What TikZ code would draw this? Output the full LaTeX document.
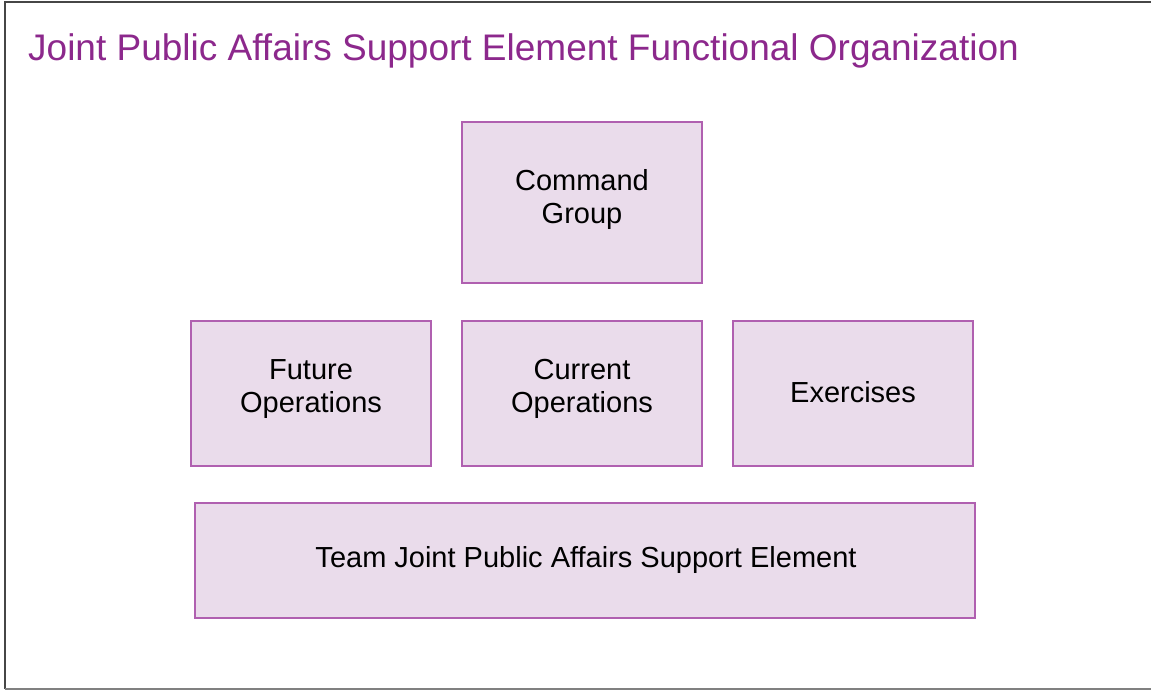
\documentclass[tikz,border=0pt]{standalone}
\usepackage{fontspec}
\setmainfont{Liberation Sans}
\definecolor{titlecol}{RGB}{140,40,140}
\definecolor{boxfill}{RGB}{234,220,235}
\definecolor{boxline}{RGB}{176,96,176}
\definecolor{frame}{RGB}{70,70,70}
\tikzset{
  unitbox/.style={draw=boxline, fill=boxfill, line width=1.3pt},
  unittext/.style={align=center, font=\fontsize{29}{33}\selectfont, text=black}
}
\begin{document}
\begin{tikzpicture}[x=1pt,y=-1pt]
\useasboundingbox (0,0) rectangle (1151,690);
\draw[frame, line width=2.5pt] (1151,2) -- (5,2) -- (5,689);
\draw[gray, line width=2pt] (5,688.5) -- (1151,688.5);
\node[anchor=base west, text=titlecol, font=\fontsize{37}{41}\selectfont, inner sep=0pt] (title) at (28,61) {Joint Public Affairs Support Element Functional Organization};
\path[unitbox] (462,122) rectangle (702,283);
\node[unittext] (cmd) at (582,200) {Command\\Group};
\path[unitbox] (191,321) rectangle (431,466);
\node[unittext] (fut) at (311,389) {Future\\Operations};
\path[unitbox] (462,321) rectangle (702,466);
\node[unittext] (cur) at (582,389) {Current\\Operations};
\path[unitbox] (733,321) rectangle (973,466);
\node[unittext] (exe) at (853,392) {Exercises};
\path[unitbox] (195,503) rectangle (975,618);
\node[unittext] (team) at (586,560) {Team Joint Public Affairs Support Element};
\end{tikzpicture}
\end{document}
